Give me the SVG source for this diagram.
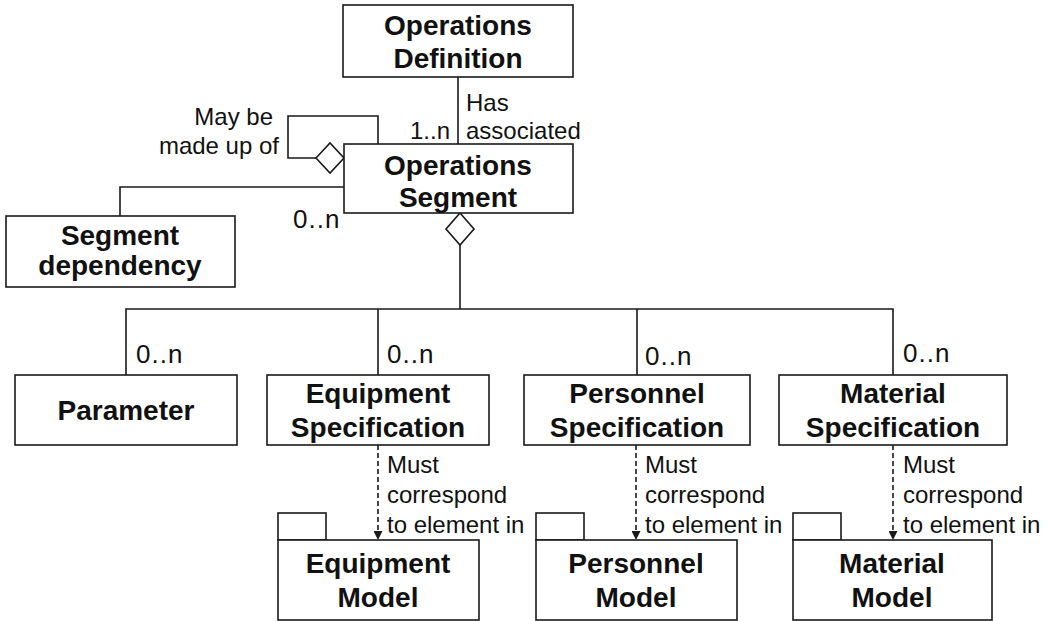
<svg xmlns="http://www.w3.org/2000/svg" width="1049" height="621" viewBox="0 0 1049 621">
<defs>
<style>
.box{fill:#fff;stroke:#1a1a1a;stroke-width:1.6}
.ln{fill:none;stroke:#1a1a1a;stroke-width:1.6}
.dash{fill:none;stroke:#1a1a1a;stroke-width:1.6;stroke-dasharray:5 3}
.t{font-family:"Liberation Sans",Arial,sans-serif;font-size:28px;font-weight:bold;fill:#111;text-anchor:middle}
.l{font-family:"Liberation Sans",Arial,sans-serif;font-size:24px;fill:#111}
.m{font-family:"Liberation Sans",Arial,sans-serif;font-size:26px;letter-spacing:1px;fill:#111}
</style>
<marker id="arr" viewBox="0 0 10 10" refX="10" refY="5" markerWidth="9" markerHeight="9" markerUnits="userSpaceOnUse" orient="auto">
<path d="M0,0 L10,5 L0,10 Z" fill="#1a1a1a"/>
</marker>
</defs>
<rect width="1049" height="621" fill="#fff"/>
<g id="connectors">
<line class="ln" x1="458" y1="77" x2="458" y2="144"/>
<polyline class="ln" points="316,158 288,158 288,116 378,116 378,144"/>
<polygon class="box" points="316,158 330,143 344,158 330,173"/>
<polyline class="ln" points="344,187 120,187 120,216"/>
<polygon class="box" points="460,213 474,229 460,245 446,229"/>
<line class="ln" x1="460" y1="245" x2="460" y2="309"/>
<polyline class="ln" points="126,375 126,309 893,309 893,375"/>
<line class="ln" x1="378" y1="309" x2="378" y2="375"/>
<line class="ln" x1="637" y1="309" x2="637" y2="375"/>
<line class="dash" x1="378" y1="445" x2="378" y2="540" marker-end="url(#arr)"/>
<line class="dash" x1="636" y1="445" x2="636" y2="540" marker-end="url(#arr)"/>
<line class="dash" x1="893" y1="445" x2="893" y2="540" marker-end="url(#arr)"/>
<text class="l" x="466" y="111">Has</text>
<text class="l" x="466" y="139">associated</text>
<text class="l" x="450" y="139" text-anchor="end">1..n</text>
<text class="l" x="273" y="125" text-anchor="end">May be</text>
<text class="l" x="279" y="154" text-anchor="end">made up of</text>
<text class="m" x="293" y="228">0..n</text>
<text class="m" x="136" y="363">0..n</text>
<text class="m" x="387" y="363">0..n</text>
<text class="m" x="645" y="365">0..n</text>
<text class="m" x="903" y="362">0..n</text>
<text class="l" x="387" y="473">Must</text>
<text class="l" x="387" y="503">correspond</text>
<text class="l" x="387" y="533">to element in</text>
<text class="l" x="645" y="473">Must</text>
<text class="l" x="645" y="503">correspond</text>
<text class="l" x="645" y="533">to element in</text>
<text class="l" x="903" y="473">Must</text>
<text class="l" x="903" y="503">correspond</text>
<text class="l" x="903" y="533">to element in</text>
</g>
<g id="operations-definition">
<rect class="box" x="343" y="5" width="230" height="72"/>
<text class="t" x="458" y="35">Operations</text>
<text class="t" x="458" y="68">Definition</text>
</g>
<g id="operations-segment">
<rect class="box" x="344" y="144" width="229" height="69"/>
<text class="t" x="458" y="175">Operations</text>
<text class="t" x="458" y="207">Segment</text>
</g>
<g id="segment-dependency">
<rect class="box" x="6" y="216" width="229" height="71"/>
<text class="t" x="120" y="245">Segment</text>
<text class="t" x="120" y="275">dependency</text>
</g>
<g id="parameter">
<rect class="box" x="15" y="375" width="222" height="70"/>
<text class="t" x="126" y="420">Parameter</text>
</g>
<g id="equipment-specification">
<rect class="box" x="267" y="375" width="222" height="70"/>
<text class="t" x="378" y="403">Equipment</text>
<text class="t" x="378" y="437">Specification</text>
</g>
<g id="personnel-specification">
<rect class="box" x="524" y="375" width="226" height="70"/>
<text class="t" x="637" y="403">Personnel</text>
<text class="t" x="637" y="437">Specification</text>
</g>
<g id="material-specification">
<rect class="box" x="779" y="375" width="228" height="70"/>
<text class="t" x="893" y="403">Material</text>
<text class="t" x="893" y="437">Specification</text>
</g>
<g id="equipment-model">
<rect class="box" x="278" y="513" width="48" height="27"/>
<rect class="box" x="278" y="540" width="201" height="80"/>
<text class="t" x="378" y="573">Equipment</text>
<text class="t" x="378" y="607">Model</text>
</g>
<g id="personnel-model">
<rect class="box" x="536" y="513" width="48" height="27"/>
<rect class="box" x="536" y="540" width="201" height="80"/>
<text class="t" x="636" y="573">Personnel</text>
<text class="t" x="636" y="607">Model</text>
</g>
<g id="material-model">
<rect class="box" x="793" y="513" width="48" height="27"/>
<rect class="box" x="793" y="540" width="199" height="80"/>
<text class="t" x="892" y="573">Material</text>
<text class="t" x="892" y="607">Model</text>
</g>
</svg>
